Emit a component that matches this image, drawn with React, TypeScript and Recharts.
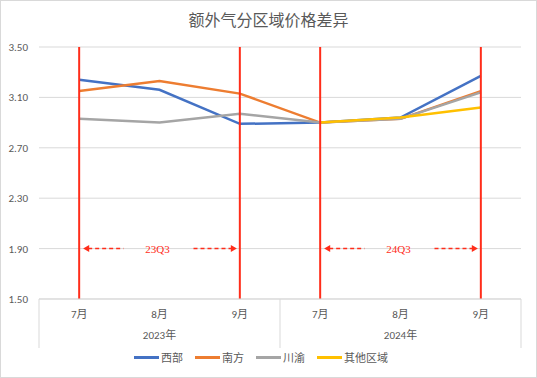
import { LineChart, Line, XAxis, YAxis, CartesianGrid, ReferenceLine, Legend } from 'recharts';

const periods = ['2023-7', '2023-8', '2023-9', '2024-7', '2024-8', '2024-9'];
const monthLabels = ['7月', '8月', '9月', '7月', '8月', '9月'];
const yearLabels = ['2023年', '2023年', '2023年', '2024年', '2024年', '2024年'];

const west = [3.24, 3.16, 2.89, 2.9, 2.94, 3.27];
const south = [3.15, 3.23, 3.13, 2.9, 2.93, 3.15];
const chuanyu = [2.93, 2.9, 2.97, 2.9, 2.93, 3.14];
const other = [null, null, null, 2.9, 2.94, 3.02];

const yTicks = [1.5, 1.9, 2.3, 2.7, 3.1, 3.5];
const markerPeriods = ['2023-7', '2023-9', '2024-7', '2024-9'];
const quarters = [
  { label: '23Q3', from: '2023-7', to: '2023-9' },
  { label: '24Q3', from: '2024-7', to: '2024-9' },
];
const quarterLevel = 1.9;

const SERIES = [
  { key: 'west', name: '西部', color: '#4472C4' },
  { key: 'south', name: '南方', color: '#ED7D31' },
  { key: 'chuanyu', name: '川渝', color: '#A5A5A5' },
  { key: 'other', name: '其他区域', color: '#FFC000' },
];

const RED = '#ff2d1a';
const TEXT = '#595959';
const FONT = 'Calibri, "Noto Sans CJK SC", sans-serif';

const data = periods.map((p, i) => ({
  period: p,
  west: west[i],
  south: south[i],
  chuanyu: chuanyu[i],
  other: other[i],
}));

const MonthTick = (props: any) => {
  const { x, y, index, payload, width, visibleTicksCount } = props;
  const half = payload?.offset || width / visibleTicksCount / 2;
  const isGroupStart = yearLabels[index] !== yearLabels[index - 1];
  const groupIdx = yearLabels.map((l, i) => (l === yearLabels[index] ? i : -1)).filter((i) => i >= 0);
  const isMiddle = groupIdx[Math.floor(groupIdx.length / 2)] === index;
  return (
    <g>
      <text x={x} y={y + 15} textAnchor="middle" dominantBaseline="central" fontSize={11} fill={TEXT} fontFamily={FONT}>
        {monthLabels[index]}
      </text>
      {isMiddle && (
        <text x={x} y={y + 36} textAnchor="middle" dominantBaseline="central" fontSize={11} fill={TEXT} fontFamily={FONT}>
          {yearLabels[index]}
        </text>
      )}
      {isGroupStart && <line x1={x - half} x2={x - half} y1={y} y2={y + 49} stroke="#d9d9d9" />}
      {index === periods.length - 1 && <line x1={x + half} x2={x + half} y1={y} y2={y + 49} stroke="#d9d9d9" />}
    </g>
  );
};

const QuarterArrow = (props: any) => {
  const { x1, x2, y1, text } = props;
  if (x1 == null || x2 == null) return null;
  const y = y1;
  const mid = (x1 + x2) / 2;
  return (
    <g>
      <line x1={x1 + 9} x2={mid - 36} y1={y} y2={y} stroke={RED} strokeWidth={1.5} strokeDasharray="4 3" />
      <polygon points={`${x1 + 4},${y} ${x1 + 10},${y - 3.5} ${x1 + 10},${y + 3.5}`} fill={RED} />
      <text
        x={mid - 2}
        y={y}
        textAnchor="middle"
        dominantBaseline="central"
        fill={RED}
        style={{ fontFamily: "'Liberation Serif', 'Times New Roman', 'DejaVu Serif', serif", fontSize: 11 }}
      >
        {text}
      </text>
      <line x1={mid + 34} x2={x2 - 8} y1={y} y2={y} stroke={RED} strokeWidth={1.5} strokeDasharray="4 3" />
      <polygon points={`${x2 - 3},${y} ${x2 - 9},${y - 3.5} ${x2 - 9},${y + 3.5}`} fill={RED} />
    </g>
  );
};

const LegendContent = () => (
  <div style={{ display: 'flex', justifyContent: 'center', gap: 12, fontFamily: FONT, fontSize: 11, color: TEXT }}>
    {SERIES.map((s) => (
      <div key={s.key} style={{ display: 'flex', alignItems: 'center', gap: 2 }}>
        <span style={{ display: 'inline-block', width: 25, height: 3, background: s.color }} />
        <span>{s.name}</span>
      </div>
    ))}
  </div>
);

export default function App() {
  return (
    <div style={{ position: 'relative', width: 535, height: 376, border: '1px solid #d9d9d9', background: '#fff' }}>
      <style>{'body{margin:0}'}</style>
      <div
        style={{
          position: 'absolute',
          top: 10,
          left: 0,
          width: '100%',
          textAlign: 'center',
          fontFamily: FONT,
          fontSize: 16,
          lineHeight: '20px',
          color: TEXT,
        }}
      >
        额外气分区域价格差异
      </div>
      <LineChart width={535} height={376} data={data} margin={{ top: 46, right: 15, left: 0, bottom: 12 }}>
        <CartesianGrid vertical={false} stroke="#d9d9d9" />
        <XAxis
          dataKey="period"
          scale="band"
          height={50}
          tickLine={false}
          tickSize={0}
          tickMargin={0}
          axisLine={{ stroke: '#d9d9d9' }}
          tick={<MonthTick />}
          interval={0}
        />
        <YAxis
          width={38}
          domain={[1.5, 3.5]}
          ticks={yTicks}
          axisLine={false}
          tickLine={false}
          tickSize={0}
          tickMargin={11}
          tickFormatter={(v: number) => v.toFixed(2)}
          tick={{ fontSize: 11, fill: TEXT, fontFamily: FONT }}
        />
        {SERIES.map((s) => (
          <Line
            key={s.key}
            type="linear"
            dataKey={s.key}
            name={s.name}
            stroke={s.color}
            strokeWidth={2.5}
            dot={false}
            isAnimationActive={false}
          />
        ))}
        {markerPeriods.map((p) => (
          <ReferenceLine key={p} x={p} stroke={RED} strokeWidth={2} />
        ))}
        {quarters.map((q) => (
          <ReferenceLine
            key={q.label}
            segment={[
              { x: q.from, y: quarterLevel },
              { x: q.to, y: quarterLevel },
            ]}
            shape={(p: any) => <QuarterArrow {...p} text={q.label} />}
          />
        ))}
        <Legend verticalAlign="bottom" content={<LegendContent />} />
      </LineChart>
    </div>
  );
}
